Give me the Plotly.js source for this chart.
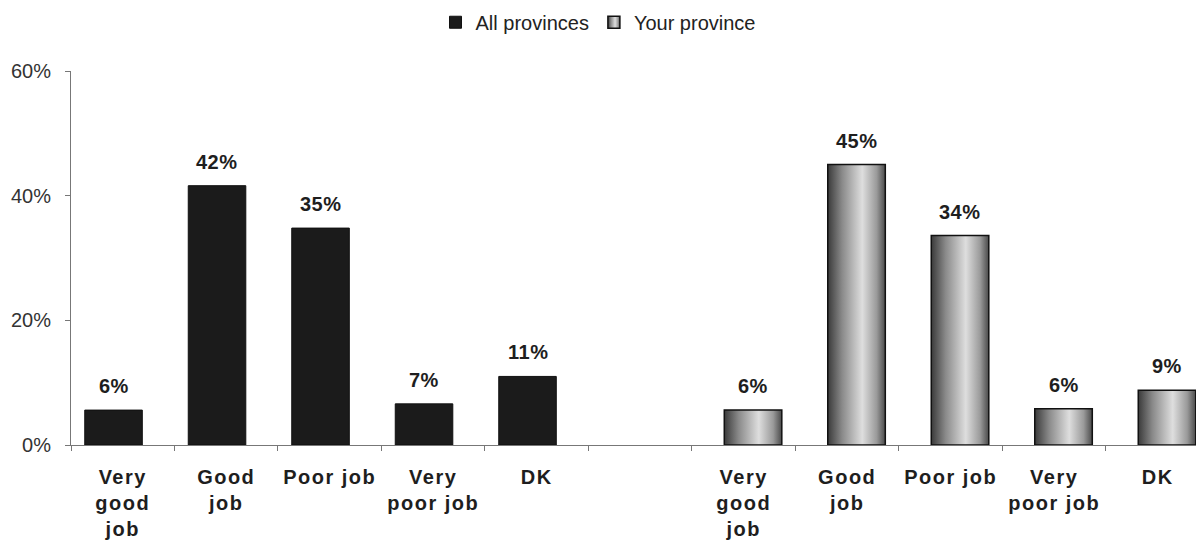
<!DOCTYPE html>
<html>
<head>
<meta charset="utf-8">
<script src="https://cdn.plot.ly/plotly-3.0.1.min.js"></script>
<style>
  html, body { margin: 0; padding: 0; background: #fff; }
  #chart { width: 1196px; height: 547px; }
  .xtick text { letter-spacing: 1.5px; }
  .annotation-text { letter-spacing: 0.5px; }
</style>
</head>
<body>
<div id="chart"></div>
<script>
// ---- data ----
const categories = ["Very good job", "Good job", "Poor job", "Very poor job", "DK"];
const tickLabels = ["Very<br>good<br>job", "Good<br>job", "Poor job", "Very<br>poor job", "DK"];
const seriesNames = ["All provinces", "Your province"];
const allProvinces = [5.6, 41.6, 34.8, 6.6, 11.0];
const yourProvince = [5.6, 45.0, 33.6, 5.8, 8.8];
const yTickValues = [0, 20, 40, 60];
const yTickLabels = ["0%", "20%", "40%", "60%"];

// ---- positions (group 1 at 0..4, empty slot 5, group 2 at 6..10) ----
const xAll = categories.map((c, i) => i);
const xYour = categories.map((c, i) => i + 6);
const barWidth = 0.556;
const offAll = -0.367, offYour = -0.188;

const traces = [
  {
    type: "bar", name: seriesNames[0], x: xAll, y: allProvinces,
    width: barWidth, offset: offAll,
    marker: { color: "#1b1b1b", line: { color: "#111", width: 1 } },
    hoverinfo: "skip"
  },
  {
    type: "bar", name: seriesNames[1], x: xYour, y: yourProvince,
    width: barWidth, offset: offYour,
    marker: { color: "#a8a8a8", line: { color: "#111", width: 1.5 } },
    hoverinfo: "skip"
  }
];

const annFont = { family: "Liberation Sans, Arial, sans-serif", size: 20, color: "#1e1e1e" };
const annotations = [];
allProvinces.forEach((v, i) => annotations.push({
  x: xAll[i] + offAll + barWidth / 2, y: v, xref: "x", yref: "y",
  text: "<b>" + Math.round(v) + "%</b>", showarrow: false,
  yanchor: "middle", yshift: 24, font: annFont
}));
yourProvince.forEach((v, i) => annotations.push({
  x: xYour[i] + offYour + barWidth / 2, y: v, xref: "x", yref: "y",
  text: "<b>" + Math.round(v) + "%</b>", showarrow: false,
  yanchor: "middle", yshift: 24, font: annFont
}));

const centers = xAll.concat(xYour);
const centerLabels = tickLabels.map(t => "<b>" + t + "</b>").concat(tickLabels.map(t => "<b>" + t + "</b>"));
const boundaries = [];
for (let k = 0; k <= 11; k++) boundaries.push(k - 0.5);

const layout = {
  width: 1196, height: 547,
  margin: { l: 71, r: 0, t: 71, b: 102 },
  paper_bgcolor: "#ffffff", plot_bgcolor: "#ffffff",
  font: { family: "Liberation Sans, Arial, sans-serif", color: "#222" },
  barmode: "overlay",
  showlegend: true,
  legend: {
    orientation: "h", xref: "container", yref: "container",
    x: 0.5, xanchor: "center", y: 0.995, yanchor: "top",
    font: { size: 20, color: "#222" }, itemwidth: 30, tracegroupgap: 0
  },
  xaxis: {
    type: "linear", range: [-0.5, 10.37], fixedrange: true,
    tickmode: "array", tickvals: centers, ticktext: centerLabels,
    ticks: "", showgrid: false, zeroline: false,
    showline: true, linecolor: "#777", linewidth: 1,
    ticklabelstandoff: 14,
    tickfont: { size: 20, color: "#1e1e1e" },
    minor: { tickmode: "array", tickvals: boundaries, ticks: "outside", ticklen: 5, tickcolor: "#777", tickwidth: 1, showgrid: false }
  },
  yaxis: {
    range: [0, 60], fixedrange: true,
    tickmode: "array", tickvals: yTickValues, ticktext: yTickLabels,
    ticks: "outside", ticklen: 5, tickcolor: "#777",
    showgrid: false, zeroline: false,
    showline: true, linecolor: "#777", linewidth: 1,
    ticklabelstandoff: 10,
    tickfont: { size: 20, color: "#333" }
  },
  annotations: annotations
};

Plotly.newPlot("chart", traces, layout, { displayModeBar: false, staticPlot: true }).then(gd => {
  // cylinder-like shading for "Your province" bars
  const svg = gd.querySelector(".main-svg");
  const ns = "http://www.w3.org/2000/svg";
  let defs = svg.querySelector("defs");
  if (!defs) { defs = document.createElementNS(ns, "defs"); svg.insertBefore(defs, svg.firstChild); }
  const g = document.createElementNS(ns, "linearGradient");
  g.setAttribute("id", "cylGrad");
  g.setAttribute("x1", "0"); g.setAttribute("x2", "1"); g.setAttribute("y1", "0"); g.setAttribute("y2", "0");
  [["0", "#3a3a3a"], ["0.25", "#8a8a8a"], ["0.6", "#dedede"], ["0.85", "#9a9a9a"], ["1", "#4a4a4a"]].forEach(s => {
    const st = document.createElementNS(ns, "stop");
    st.setAttribute("offset", s[0]); st.setAttribute("stop-color", s[1]);
    g.appendChild(st);
  });
  defs.appendChild(g);
  const traceGroups = gd.querySelectorAll(".barlayer .trace");
  if (traceGroups[1]) traceGroups[1].querySelectorAll("path").forEach(p => { p.style.fill = "url(#cylGrad)"; });
  const legendTraces = gd.querySelectorAll(".legend .traces");
  if (legendTraces[1]) legendTraces[1].querySelectorAll(".legendpoints path").forEach(p => { p.style.fill = "url(#cylGrad)"; });
});
</script>
</body>
</html>
